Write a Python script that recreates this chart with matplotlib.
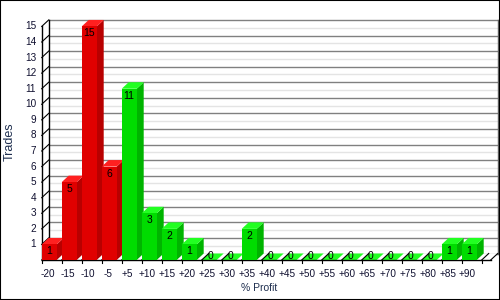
import matplotlib
matplotlib.use("Agg")
import matplotlib.pyplot as plt
from matplotlib.patches import Polygon, Rectangle

categories = ["-20", "-15", "-10", "-5", "+5", "+10", "+15", "+20", "+25", "+30",
              "+35", "+40", "+45", "+50", "+55", "+60", "+65", "+70", "+75", "+80",
              "+85", "+90"]
trades = [1, 5, 15, 6, 11, 3, 2, 1, 0, 0, 2, 0, 0, 0, 0, 0, 0, 0, 0, 0, 1, 1]
y_max = 15

# layout in pixels (500x300 figure)
X0, SLOT = 41.7, 20.0      # front x of first slot, slot width
Y0, UNIT = 260.0, 15.57    # front baseline, pixels per trade
W = 0.75                   # front face width (slots)
DX = 7.0 / SLOT            # depth offset
DY = 6.5 / UNIT
FLOOR_END = 22.45

RED = ("#e00000", "#b80000", "#ff2020")
GREEN = ("#00dc00", "#00b400", "#22ff22")

plt.rcParams["font.family"] = ["Liberation Sans", "DejaVu Sans"]
fig = plt.figure(figsize=(5, 3), dpi=100)
ax = fig.add_axes([0, 0, 1, 1])
ax.set_xlim(-X0 / SLOT, (500 - X0) / SLOT)
ax.set_ylim(-(300 - Y0) / UNIT, Y0 / UNIT)
ax.axis("off")

# back wall + gridlines
ax.add_patch(Rectangle((DX, DY), FLOOR_END, y_max, facecolor="white", edgecolor="none", zorder=0))
for k in range(2 * y_max + 1):
    v = k / 2
    if k % 2 == 0:
        ax.plot([DX, FLOOR_END + DX], [v + DY, v + DY], color="#808080", lw=1.0, zorder=1)
    else:
        ax.plot([DX, FLOOR_END + DX], [v + DY, v + DY], color="#e4e4e4", lw=1.0, zorder=1)
ax.plot([DX, DX], [DY, y_max + DY], color="black", lw=1.0, zorder=2)
ax.plot([FLOOR_END + DX, FLOOR_END + DX], [DY, y_max + DY], color="#606060", lw=1.0, zorder=2)

# front y axis with diagonal ticks
ax.plot([0, 0], [0, y_max], color="black", lw=1.0, zorder=2)
for v in range(1, y_max + 1):
    ax.plot([0, DX], [v, v + DY], color="black", lw=0.8, zorder=2)
    ax.text(-0.28, v, str(v), ha="right", va="center", fontsize=7.2, color="#101030")

# floor
ax.add_patch(Polygon([(0, 0), (FLOOR_END, 0), (FLOOR_END + DX, DY), (DX, DY)],
                     closed=True, facecolor="white", edgecolor="none", zorder=2))

# zero bars lie flat on the floor
for i, v in enumerate(trades):
    if v == 0:
        cols = RED if categories[i].startswith("-") else GREEN
        ax.add_patch(Polygon([(i, 0), (i + W, 0), (i + W + DX, DY), (i + DX, DY)],
                             closed=True, facecolor=cols[2], edgecolor="none", zorder=3))

# floor ticks
for i in range(len(categories) + 1):
    ax.plot([i, i + DX], [0, DY], color="black", lw=0.8, zorder=4)
    ax.plot([i, i], [0, -3 / UNIT], color="black", lw=0.8, zorder=4)
ax.plot([FLOOR_END, FLOOR_END + DX], [0, DY], color="black", lw=0.8, zorder=4)
ax.plot([0, FLOOR_END], [0, 0], color="black", lw=1.0, zorder=4)

# bars
for i, v in enumerate(trades):
    cols = RED if categories[i].startswith("-") else GREEN
    z = 5 + i * 0.01
    if v > 0:
        ax.add_patch(Polygon([(i + W, 0), (i + W + DX, DY), (i + W + DX, v + DY), (i + W, v)],
                             closed=True, facecolor=cols[1], edgecolor="none", zorder=z))
        ax.add_patch(Polygon([(i, v), (i + W, v), (i + W + DX, v + DY), (i + DX, v + DY)],
                             closed=True, facecolor=cols[2], edgecolor="none", zorder=z))
        ax.add_patch(Rectangle((i, 0), W, v, facecolor=cols[0], edgecolor="none", zorder=z))
        ax.text(i + W / 2, v - 7 / UNIT, str(v), ha="center", va="center",
                fontsize=7.5, color="black", zorder=z + 0.005)
    else:
        ax.text(i + W / 2 + 0.05, 4 / UNIT, str(v), ha="center", va="center",
                fontsize=7.5, color="black", zorder=4.5)

# category labels
for i, lab in enumerate(categories):
    ax.text(i + W / 2 - 0.08, -14 / UNIT, lab, ha="center", va="center",
            fontsize=7.2, color="#101030")

fig.text(10 / 500, 1 - 142 / 300, "Trades", rotation=90, ha="center", va="center",
         fontsize=9, color="#1f2f4f")
fig.text(259 / 500, 1 - 288 / 300, "% Profit", ha="center", va="center",
         fontsize=7.5, color="#1f2f4f")

fig.patches.append(Rectangle((0, 0), 1, 1, transform=fig.transFigure, fill=False,
                             edgecolor="black", lw=1.5))

fig.savefig("out.png", dpi=100)
